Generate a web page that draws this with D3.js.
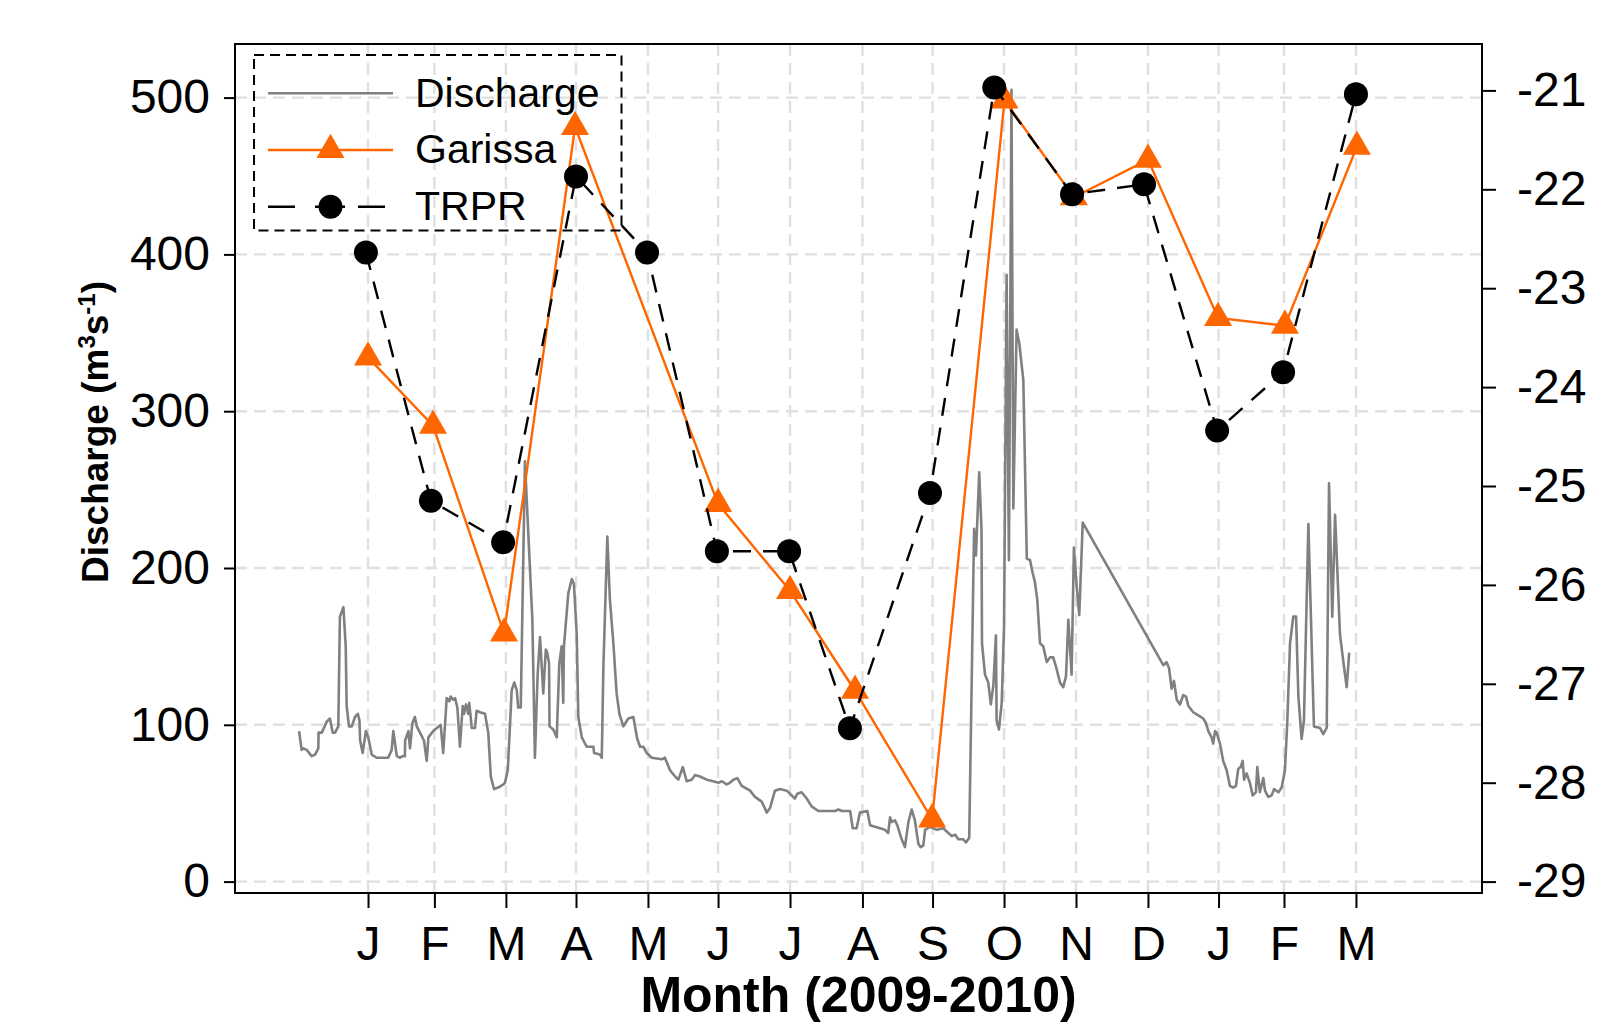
<!DOCTYPE html>
<html>
<head>
<meta charset="utf-8">
<script src="https://cdn.jsdelivr.net/npm/d3@7"></script>
<style>
  body { margin: 0; background: #fff; }
  svg { display: block; font-family: "Liberation Sans", Arial, sans-serif; }
</style>
</head>
<body>
<svg id="chart" width="1613" height="1024"></svg>
<script>
// month ticks (day offsets from the first J tick)
const monthDays = [0, 28.6, 59.4, 89.6, 120.6, 150.8, 181.8, 213.0, 243.2, 274.0, 305.0, 336.0, 366.4, 394.6, 425.6];
const monthLabels = ["J", "F", "M", "A", "M", "J", "J", "A", "S", "O", "N", "D", "J", "F", "M"];
const qTicks = [0, 100, 200, 300, 400, 500];
const isoTicks = [-29, -28, -27, -26, -25, -24, -23, -22, -21];

// discharge (m3/s): [day, value]
const discharge = [[-29.7,96],[-28.6,84],[-27.9,85],[-26.4,84],[-24.3,80],[-22.8,81],[-21.4,85],[-21.3,95],[-19.9,95],[-17.8,102],[-16.4,104],[-15.2,95],[-14.2,95],[-12.8,99],[-12.1,169],[-10.6,175],[-9.6,150],[-9.2,112],[-8.2,99],[-7.0,99],[-5.6,105],[-4.4,107],[-3.7,103],[-3.4,90],[-2.3,82],[-0.9,96],[0.1,92],[1.6,81],[3.7,79],[8.7,79],[10.2,84],[10.9,96],[12.4,80],[13.8,79],[14.9,80],[15.9,80],[16.0,90],[17.4,96],[18.1,85],[19.1,101],[20.2,105],[21.0,99],[22.4,95],[24.1,90],[25.3,77],[26.0,92],[28.1,96],[31.3,100],[32.4,82],[33.9,117],[35.0,115],[35.6,118],[36.7,116],[37.5,117],[38.5,111],[39.6,86],[40.8,112],[41.4,107],[42.2,113],[43.2,107],[43.6,114],[44.7,98],[46.1,98],[46.8,109],[48.2,108],[50.4,107],[51.8,95],[52.9,67],[54.3,59],[56.1,60],[58.3,62],[59.0,63],[60.2,71],[61.9,122],[63.0,127],[64.1,122],[64.7,111],[65.8,111],[67.6,268],[70.8,167],[71.9,79],[73.1,133],[74.1,156],[75.5,120],[76.6,148],[77.2,146],[78.0,139],[78.2,99],[79.8,97],[81.3,92],[82.4,139],[83.4,150],[84.1,114],[84.4,150],[86.3,184],[87.8,193],[88.7,190],[89.9,158],[90.6,105],[92.1,92],[94.2,86],[97.1,86],[97.4,82],[99.9,81],[100.7,79],[101.4,137],[103.1,220],[104.2,180],[105.7,152],[107.1,120],[108.3,107],[110.0,99],[112.1,104],[114.3,105],[116.0,91],[117.2,86],[118.6,86],[120.1,82],[122.2,79],[126.5,78],[127.9,79],[130.1,71],[132.3,67],[133.7,65],[135.6,73],[137.3,64],[139.4,65],[140.9,68],[143.0,67],[145.9,65],[148.7,64],[150.9,63],[152.4,64],[154.5,62],[155.9,63],[157.4,65],[159.1,66],[161.0,61],[164.6,58],[166.7,54],[169.6,51],[171.8,44],[173.2,47],[175.3,58],[177.5,59],[180.4,58],[182.5,55],[183.9,53],[184.9,56],[186.8,57],[189.0,53],[191.1,48],[194.0,45],[201.2,45],[202.6,46],[204.1,45],[207.7,45],[208.8,34],[210.5,34],[211.9,44],[215.1,45],[216.3,36],[218.4,35],[220.6,34],[222.7,33],[224.1,31],[224.9,41],[225.6,38],[227.0,39],[228.0,36],[229.9,27],[231.3,22],[232.8,38],[234.2,46],[235.6,39],[237.1,24],[238.1,22],[239.2,23],[240.0,33],[242.1,35],[245.0,33],[247.8,34],[250.0,31],[251.5,29],[252.9,30],[254.3,27],[256.4,27],[257.6,25],[259.0,28],[261.1,225],[261.9,208],[263.3,261],[264.3,224],[264.5,152],[265.8,132],[267.2,127],[268.3,113],[269.4,125],[270.5,157],[270.8,103],[271.8,97],[273.0,114],[274.0,163],[275.1,387],[276.1,205],[277.2,505],[278.0,238],[279.4,352],[280.6,343],[282.3,320],[283.8,206],[285.2,205],[286.3,197],[287.3,191],[288.3,180],[289.5,152],[290.9,150],[292.4,140],[293.8,143],[295.2,143],[296.4,137],[298.1,127],[299.5,124],[300.7,131],[301.7,167],[302.4,150],[303.1,132],[304.1,213],[305.3,188],[306.4,170],[307.9,229],[342.6,138],[344.0,140],[345.1,136],[346.2,123],[347.2,128],[348.4,116],[349.8,113],[351.2,119],[352.4,118],[353.4,112],[355.5,108],[357.7,106],[359.8,104],[361.0,101],[362.0,96],[363.4,92],[364.1,88],[364.9,96],[365.6,95],[367.0,88],[368.4,77],[369.9,71],[371.3,61],[372.8,60],[373.9,61],[374.9,72],[375.9,73],[376.8,77],[377.4,65],[378.5,69],[379.9,63],[381.1,55],[382.5,57],[383.1,73],[384.2,57],[385.7,66],[386.4,58],[387.8,54],[389.3,55],[390.3,59],[392.2,57],[393.6,60],[395.0,71],[396.0,101],[397.2,152],[398.6,169],[399.8,169],[400.8,118],[402.2,91],[403.2,103],[405.1,228],[407.5,99],[410.1,98],[411.5,94],[413.0,98],[414.0,254],[415.4,169],[416.6,234],[418.7,158],[420.1,141],[421.6,124],[422.7,146]];

// isotope values (right axis)
const garissaDays = [0, 28.0, 58.6, 89.2, 150.8, 181.8, 209.8, 243.0, 274.2, 304.1, 336.0, 366.2, 395.0, 426.0];
const garissaVals = [-23.70, -24.39, -26.49, -21.37, -25.18, -26.06, -27.07, -28.37, -21.10, -22.08, -21.70, -23.30, -23.38, -21.57];
const trprDays = [-0.9, 27.1, 58.2, 89.6, 120.2, 150.3, 181.4, 207.6, 242.1, 269.8, 303.3, 334.3, 365.8, 394.2, 425.6];
const trprVals = [-22.64, -25.15, -25.57, -21.87, -22.64, -25.66, -25.66, -27.45, -25.07, -20.97, -22.05, -21.95, -24.44, -23.85, -21.04];

const legendItems = ["Discharge", "Garissa", "TRPR"];

const orange = "#ff6600", grey = "#808080", gridCol = "#e0e0e0";
const box = { left: 235, right: 1482, top: 44, bottom: 893 };

const svg = d3.select("#chart");
svg.append("rect").attr("width", 1613).attr("height", 1024).attr("fill", "#fff");

const x = d3.scaleLinear().domain([-57.3, 479.9]).range([box.left, box.right]);
const yQ = d3.scaleLinear().domain([0, 500]).range([881.6, 97.6]);
const yIso = d3.scaleLinear().domain([-29, -21]).range([881.6, 90.4]);

// grid
const grid = svg.append("g").attr("stroke", gridCol).attr("stroke-width", 2.4).attr("stroke-dasharray", "12,7");
grid.selectAll("line.h").data(qTicks).join("line")
  .attr("x1", box.left).attr("x2", box.right)
  .attr("y1", d => yQ(d)).attr("y2", d => yQ(d));
grid.selectAll("line.v").data(monthDays).join("line")
  .attr("y1", box.top).attr("y2", box.bottom)
  .attr("x1", d => x(d)).attr("x2", d => x(d));

// discharge trace
svg.append("path").datum(discharge)
  .attr("fill", "none").attr("stroke", grey).attr("stroke-width", 2.6)
  .attr("stroke-linejoin", "round")
  .attr("d", d3.line().x(d => x(d[0])).y(d => yQ(d[1])));

// Garissa
const gar = garissaDays.map((d, i) => [d, garissaVals[i]]);
svg.append("path").datum(gar)
  .attr("fill", "none").attr("stroke", orange).attr("stroke-width", 2.4)
  .attr("d", d3.line().x(d => x(d[0])).y(d => yIso(d[1])));
const tri = d3.symbol().type(d3.symbolTriangle).size(340);
svg.selectAll("path.tri").data(gar).join("path")
  .attr("fill", orange)
  .attr("transform", d => `translate(${x(d[0])},${yIso(d[1])})`)
  .attr("d", tri);

// TRPR
const trpr = trprDays.map((d, i) => [d, trprVals[i]]);
svg.append("path").datum(trpr)
  .attr("fill", "none").attr("stroke", "#000").attr("stroke-width", 2.4)
  .attr("stroke-dasharray", "18,12")
  .attr("d", d3.line().x(d => x(d[0])).y(d => yIso(d[1])));
svg.selectAll("circle.trpr").data(trpr).join("circle")
  .attr("cx", d => x(d[0])).attr("cy", d => yIso(d[1])).attr("r", 12)
  .attr("fill", "#000");

// frame
svg.append("rect")
  .attr("x", box.left).attr("y", box.top)
  .attr("width", box.right - box.left).attr("height", box.bottom - box.top)
  .attr("fill", "none").attr("stroke", "#000").attr("stroke-width", 2);

// axes
function styleAxis(g, size) {
  g.select(".domain").remove();
  g.selectAll(".tick line").attr("stroke", "#000").attr("stroke-width", 2);
  g.selectAll(".tick text").attr("fill", "#000").attr("font-size", size)
    .attr("font-family", '"Liberation Sans", Arial, sans-serif');
}
svg.append("g").attr("transform", `translate(${box.left},0)`)
  .call(d3.axisLeft(yQ).tickValues(qTicks).tickSize(11).tickPadding(14))
  .call(g => styleAxis(g, 48));
svg.append("g").attr("transform", `translate(${box.right},0)`)
  .call(d3.axisRight(yIso).tickValues(isoTicks).tickSize(14).tickPadding(21).tickFormat(d => String(d)))
  .call(g => styleAxis(g, 48));
svg.append("g").attr("transform", `translate(0,${box.bottom})`)
  .call(d3.axisBottom(x).tickValues(monthDays).tickSize(15).tickPadding(18).tickFormat((d, i) => monthLabels[i]))
  .call(g => styleAxis(g, 48));

// titles
svg.append("text").attr("x", (box.left + box.right) / 2).attr("y", 1012)
  .attr("text-anchor", "middle").attr("font-size", 50).attr("font-weight", "bold")
  .text("Month (2009-2010)");
const yt = svg.append("text").attr("transform", "translate(108,432) rotate(-90)")
  .attr("text-anchor", "middle").attr("font-size", 37).attr("font-weight", "bold");
yt.append("tspan").text("Discharge (m");
yt.append("tspan").attr("font-size", 24).attr("dy", -13).text("3");
yt.append("tspan").attr("dy", 13).text("s");
yt.append("tspan").attr("font-size", 24).attr("dy", -13).text("-1");
yt.append("tspan").attr("dy", 13).text(")");

// legend
const lg = svg.append("g");
lg.append("rect").attr("x", 254).attr("y", 55).attr("width", 367.5).attr("height", 175.5)
  .attr("fill", "none").attr("stroke", "#000").attr("stroke-width", 2).attr("stroke-dasharray", "10,6");
const rowY = [93.3, 150, 206.7];
lg.append("line").attr("x1", 268).attr("x2", 393).attr("y1", rowY[0]).attr("y2", rowY[0])
  .attr("stroke", grey).attr("stroke-width", 2.6);
lg.append("line").attr("x1", 268).attr("x2", 393).attr("y1", rowY[1]).attr("y2", rowY[1])
  .attr("stroke", orange).attr("stroke-width", 2.4);
lg.append("path").attr("d", tri).attr("fill", orange).attr("transform", `translate(330.5,${rowY[1]})`);
lg.append("line").attr("x1", 268).attr("x2", 393).attr("y1", rowY[2]).attr("y2", rowY[2])
  .attr("stroke", "#000").attr("stroke-width", 2.4).attr("stroke-dasharray", "27,20,30,13,27,20");
lg.append("circle").attr("cx", 330.5).attr("cy", rowY[2]).attr("r", 12).attr("fill", "#000");
lg.selectAll("text").data(legendItems).join("text")
  .attr("x", 415).attr("y", (d, i) => rowY[i] + 13.4)
  .attr("font-size", 41).text(d => d);
</script>
</body>
</html>
